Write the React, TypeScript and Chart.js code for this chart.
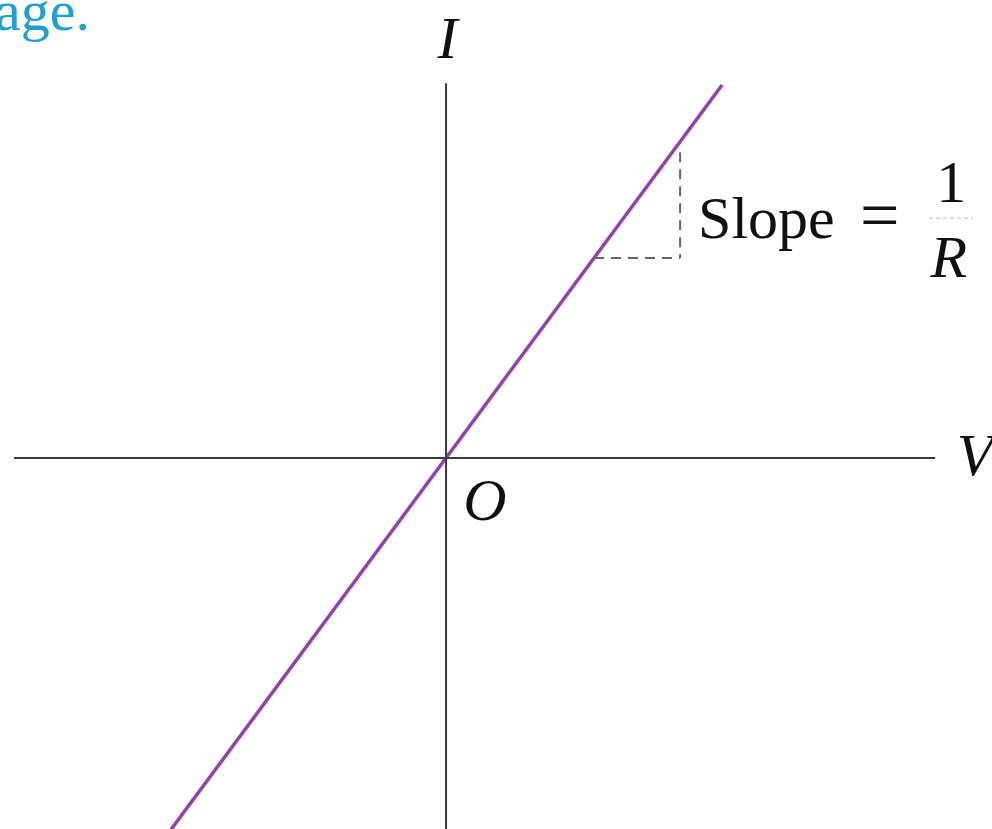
import React, { useEffect, useRef } from "react";
import { Chart, registerables } from "chart.js";

Chart.register(...registerables);

// Data (V in arbitrary units, I in arbitrary units; R = 1)
const lineV = [-10.6, 10.0];
const lineI = [-10.6, 10.0];
const axisVx = [-15.65, 17.72];
const axisVy = [0, 0];
const axisIx = [0, 0];
const axisIy = [-10.3, 10.05];
const riseV = [8.48, 8.48];
const riseI = [8.2, 5.36];
const runV = [5.36, 8.48];
const runI = [5.36, 5.36];
const fracV = [17.5, 19.1];
const fracI = [6.43, 6.43];

const X_MIN = -16.16;
const X_MAX = 19.78;
const Y_MIN = -9.95;
const Y_MAX = 12.28;

const SERIF = '"Liberation Serif", "Times New Roman", serif';

const pts = (xs: number[], ys: number[]) => xs.map((x, i) => ({ x, y: ys[i] }));

const labelPlugin = {
  id: "labels",
  afterDatasetsDraw(chart: any) {
    const ctx = chart.ctx;
    const sx = chart.scales.x;
    const sy = chart.scales.y;
    const px = (v: number) => sx.getPixelForValue(v);
    const py = (v: number) => sy.getPixelForValue(v);
    ctx.save();
    ctx.fillStyle = "#111";
    ctx.textBaseline = "alphabetic";

    ctx.font = `italic 60px ${SERIF}`;
    ctx.textAlign = "center";
    ctx.fillText("I", px(0.05), py(10.72));
    ctx.textAlign = "left";
    ctx.fillText("V", px(18.5), py(-0.46));
    ctx.fillText("O", px(0.62), py(-1.66));

    ctx.font = `60px ${SERIF}`;
    ctx.fillText("Slope", px(9.13), py(5.9));
    ctx.font = `70px ${SERIF}`;
    ctx.fillText("=", px(15.0), py(5.86));
    ctx.font = `60px ${SERIF}`;
    ctx.textAlign = "center";
    ctx.fillText("1", px(18.3), py(6.86));
    ctx.font = `italic 60px ${SERIF}`;
    ctx.fillText("R", px(18.22), py(4.85));

    // cropped caption text from the page above the figure
    ctx.textAlign = "left";
    ctx.font = `58px ${SERIF}`;
    ctx.fillStyle = "#1f9fd2";
    ctx.fillText("age.", -5, 30);
    ctx.restore();
  },
};

export default function App() {
  const ref = useRef<HTMLCanvasElement | null>(null);
  useEffect(() => {
    if (!ref.current) return;
    const axisStyle = {
      borderColor: "#3a3a3a",
      borderWidth: 2,
      pointRadius: 0,
      showLine: true,
    };
    const chart = new Chart(ref.current, {
      type: "scatter",
      data: {
        datasets: [
          { ...axisStyle, data: pts(axisVx, axisVy) },
          { ...axisStyle, data: pts(axisIx, axisIy) },
          {
            data: pts(riseV, riseI),
            borderColor: "#666",
            borderWidth: 2,
            borderDash: [10, 7],
            pointRadius: 0,
            showLine: true,
          },
          {
            data: pts(runV, runI),
            borderColor: "#666",
            borderWidth: 2,
            borderDash: [10, 7],
            pointRadius: 0,
            showLine: true,
          },
          {
            data: pts(fracV, fracI),
            borderColor: "#bbb",
            borderWidth: 1,
            borderDash: [4, 3],
            pointRadius: 0,
            showLine: true,
          },
          {
            data: pts(lineV, lineI),
            borderColor: "#9440b0",
            borderWidth: 3.5,
            pointRadius: 0,
            showLine: true,
          },
        ],
      },
      options: {
        animation: false,
        responsive: false,
        maintainAspectRatio: false,
        layout: { padding: 0 },
        plugins: { legend: { display: false }, tooltip: { enabled: false } },
        scales: {
          x: { type: "linear", min: X_MIN, max: X_MAX, display: false },
          y: { type: "linear", min: Y_MIN, max: Y_MAX, display: false },
        },
      },
      plugins: [labelPlugin],
    });
    return () => chart.destroy();
  }, []);
  return (
    <div style={{ position: "fixed", left: 0, top: 0, width: 992, height: 829, background: "#fff" }}>
      <canvas ref={ref} width={992} height={829} style={{ display: "block" }} />
    </div>
  );
}
